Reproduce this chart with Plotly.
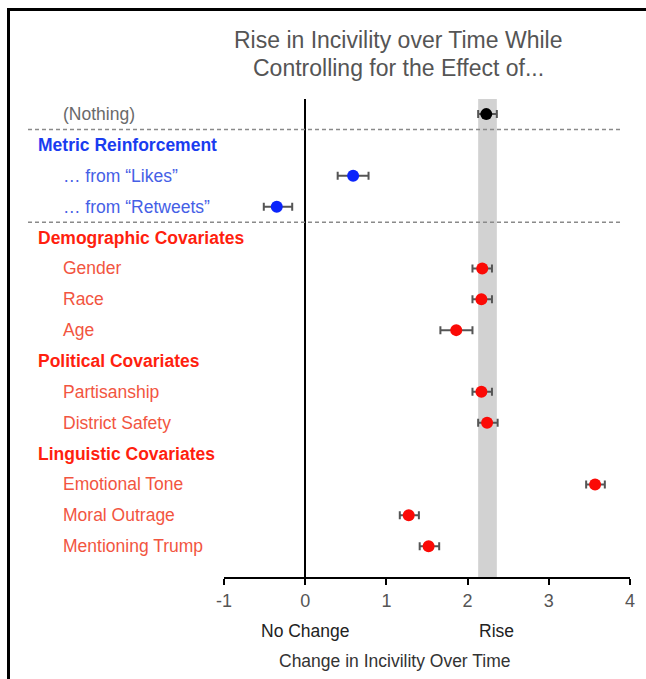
import plotly.graph_objects as go

# ---------------- data ----------------
labels = ["(Nothing)", "Metric Reinforcement", "… from “Likes”", "… from “Retweets”",
          "Demographic Covariates", "Gender", "Race", "Age",
          "Political Covariates", "Partisanship", "District Safety",
          "Linguistic Covariates", "Emotional Tone", "Moral Outrage", "Mentioning Trump"]
row_kind = ["baseline", "header", "item", "item",
            "header", "item", "item", "item",
            "header", "item", "item",
            "header", "item", "item", "item"]
row_group = ["none", "metric", "metric", "metric",
             "covariate", "covariate", "covariate", "covariate",
             "covariate", "covariate", "covariate",
             "covariate", "covariate", "covariate", "covariate"]
estimates = [2.23, None, 0.59, -0.35, None, 2.18, 2.17, 1.86, None, 2.17, 2.24, None, 3.57, 1.275, 1.52]
lower =     [2.13, None, 0.40, -0.51, None, 2.06, 2.06, 1.665, None, 2.06, 2.13, None, 3.46, 1.165, 1.41]
upper =     [2.36, None, 0.78, -0.16, None, 2.30, 2.30, 2.06, None, 2.30, 2.37, None, 3.69, 1.40, 1.65]
x_ticks = [-1, 0, 1, 2, 3, 4]
x_ticktext = ["-1", "0", "1", "2", "3", "4"]
title_lines = ["Rise in Incivility over Time While", "Controlling for the Effect of..."]
x_title = "Change in Incivility Over Time"
end_labels = [("No Change", 0), ("Rise", 2.35)]
dividers_after = [0, 3]  # dashed lines below these rows

# ---------------- styles ----------------
FONT = "Liberation Sans, Arial, Helvetica, sans-serif"
W, H = 646, 679
L, R, T, B = 224, 630, 99, 577
marker_color = {"none": "#000000", "metric": "#0b24fb", "covariate": "#fb0a06"}
label_color = {
    ("none", "baseline"): "#6a6a6a",
    ("metric", "header"): "#1a3cf0",
    ("metric", "item"): "#4560e6",
    ("covariate", "header"): "#ff1f0f",
    ("covariate", "item"): "#f2553f",
}

def px_x(px):
    return (px - L) / (R - L)

def px_y(py):
    return (B - py) / (B - T)

n = len(labels)
y_range = [n - 1 + 1.0, -0.49]

def row_to_paper(r):
    return (y_range[0] - r) / (y_range[0] - y_range[1])

fig = go.Figure()

# gray band = CI of baseline
fig.add_shape(type="rect", xref="x", yref="paper", x0=lower[0], x1=upper[0], y0=0, y1=1,
              fillcolor="#d2d2d2", line_width=0, layer="below")

for grp in ["none", "metric", "covariate"]:
    idx = [i for i in range(n) if row_group[i] == grp and estimates[i] is not None]
    xs = [estimates[i] for i in idx]
    ys = idx
    plus = [upper[i] - estimates[i] for i in idx]
    minus = [estimates[i] - lower[i] for i in idx]
    fig.add_trace(go.Scatter(
        x=xs, y=ys, mode="markers",
        marker=dict(color=marker_color[grp], size=12, line=dict(width=0)),
        error_x=dict(type="data", symmetric=False, array=plus, arrayminus=minus,
                     color="#555555", thickness=2, width=4),
        showlegend=False, cliponaxis=False, hoverinfo="skip"))

annotations = []
for i, lab in enumerate(labels):
    kind = row_kind[i]
    grp = row_group[i]
    is_header = kind == "header"
    annotations.append(dict(
        text=("<b>%s</b>" % lab) if is_header else lab,
        xref="paper", yref="y", x=px_x(36 if is_header else 61), y=i,
        xanchor="left", yanchor="middle", showarrow=False,
        font=dict(family=FONT, size=17.5, color=label_color[(grp, kind)])))

annotations.append(dict(text=title_lines[0], xref="paper", yref="paper",
                        x=px_x(398), y=px_y(40), xanchor="center", yanchor="middle",
                        showarrow=False, font=dict(family=FONT, size=23, color="#555555")))
annotations.append(dict(text=title_lines[1], xref="paper", yref="paper",
                        x=px_x(398), y=px_y(68), xanchor="center", yanchor="middle",
                        showarrow=False, font=dict(family=FONT, size=23, color="#555555")))
for txt, xv in end_labels:
    annotations.append(dict(text=txt, xref="x", yref="paper", x=xv, y=px_y(631),
                            xanchor="center", yanchor="middle", showarrow=False,
                            font=dict(family=FONT, size=17.5, color="#222222")))
annotations.append(dict(text=x_title, xref="paper", yref="paper", x=px_x(394), y=px_y(661),
                        xanchor="center", yanchor="middle", showarrow=False,
                        font=dict(family=FONT, size=17.5, color="#333333")))

# dashed dividers
for r in dividers_after:
    yp = row_to_paper(r + 0.5)
    fig.add_shape(type="line", xref="paper", yref="paper", x0=px_x(28), x1=px_x(622),
                  y0=yp, y1=yp, line=dict(color="#8a8a8a", width=1.5, dash="4px,3px"))

# frame (left + top edges)
fig.add_shape(type="line", xref="paper", yref="paper", x0=px_x(8.5), x1=px_x(8.5),
              y0=px_y(8), y1=px_y(679), line=dict(color="black", width=3))
fig.add_shape(type="line", xref="paper", yref="paper", x0=px_x(7), x1=px_x(646),
              y0=px_y(9.5), y1=px_y(9.5), line=dict(color="black", width=3))

fig.update_layout(
    width=W, height=H,
    margin=dict(l=L, r=W - R, t=T, b=H - B, pad=0),
    paper_bgcolor="white", plot_bgcolor="white",
    annotations=annotations,
    font=dict(family=FONT),
    hovermode=False,
    xaxis=dict(range=[-1, 4], tickvals=x_ticks, ticktext=x_ticktext, fixedrange=True,
               showgrid=False, zeroline=True, zerolinecolor="black", zerolinewidth=2,
               showline=True, linecolor="black", linewidth=2,
               ticks="outside", ticklen=6, tickwidth=1.5, tickcolor="black",
               tickfont=dict(family=FONT, size=18, color="#555555")),
    yaxis=dict(range=y_range, showgrid=False, zeroline=False, showline=False, fixedrange=True,
               showticklabels=False, ticks=""),
)

fig.write_html("out.html", config={"displayModeBar": False},
               post_script="document.body.style.margin='0';document.body.style.overflow='hidden';")
